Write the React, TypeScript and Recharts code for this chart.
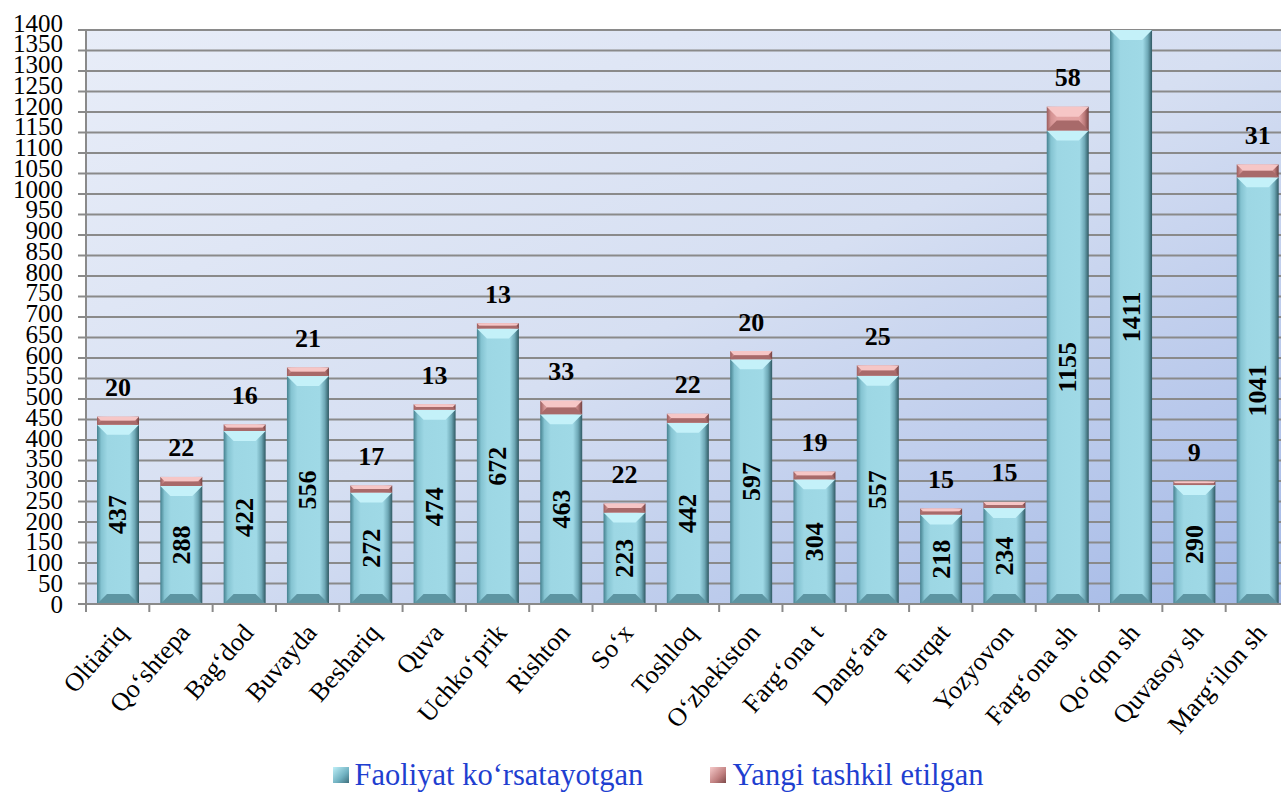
import React from 'react';
import { BarChart, Bar, XAxis, YAxis, CartesianGrid, Legend, LabelList } from 'recharts';

const districts = [
  'Oltiariq', 'Qo‘shtepa', 'Bag‘dod', 'Buvayda', 'Beshariq', 'Quva', 'Uchko‘prik', 'Rishton', 'So‘x',
  'Toshloq', 'O‘zbekiston', 'Farg‘ona t', 'Dang‘ara', 'Furqat', 'Yozyovon', 'Farg‘ona sh', 'Qo‘qon sh',
  'Quvasoy sh', 'Marg‘ilon sh',
];
const activeCounts = [437, 288, 422, 556, 272, 474, 672, 463, 223, 442, 597, 304, 557, 218, 234, 1155, 1411, 290, 1041];
const newCounts = [20, 22, 16, 21, 17, 13, 13, 33, 22, 22, 20, 19, 25, 15, 15, 58, 40, 9, 31];
const yTicks = Array.from({ length: 29 }, (_, i) => i * 50);
const yMax = 1400;

const data = districts.map((name, i) => ({ name, active: activeCounts[i], added: newCounts[i] }));

const FONT = '"Liberation Serif", "Times New Roman", serif';
const CHART_W = 1300;
const PLOT_W = CHART_W - 86 - 11;
const BAND = PLOT_W / districts.length;

const bevelShape = (kind: 'cyan' | 'pink') => (props: any) => {
  const { x, y, width, height } = props;
  if (!height || height <= 0) return <g />;
  const b = Math.min(10, height / 2);
  const top = kind === 'cyan' ? '#c4f1f9' : '#f6c6c6';
  const bottom = kind === 'cyan' ? '#5d95a2' : '#a86a6a';
  return (
    <g>
      <rect x={x} y={y} width={width} height={height} fill={`url(#${kind}Body)`} />
      <polygon
        points={`${x},${y} ${x + width},${y} ${x + width - b},${y + b} ${x + b},${y + b}`}
        fill={top}
      />
      <polygon
        points={`${x},${y + height} ${x + width},${y + height} ${x + width - b},${y + height - b} ${x + b},${y + height - b}`}
        fill={bottom}
      />
    </g>
  );
};

const InnerLabel = (props: any) => {
  const { x, y, width, height, value } = props;
  const cx = x + width / 2;
  const cy = y + height / 2;
  return (
    <text
      x={cx}
      y={cy}
      transform={`rotate(-90 ${cx} ${cy})`}
      textAnchor="middle"
      dominantBaseline="central"
      fontFamily={FONT}
      fontWeight="bold"
      fontSize={26}
      fill="#000"
    >
      {value}
    </text>
  );
};

const TopLabel = (props: any) => {
  const { x, y, width, value, index } = props;
  if (activeCounts[index] + newCounts[index] > yMax) return null;
  return (
    <text
      x={x + width / 2}
      y={y - 29}
      textAnchor="middle"
      dominantBaseline="central"
      fontFamily={FONT}
      fontWeight="bold"
      fontSize={26}
      fill="#000"
    >
      {value}
    </text>
  );
};

const XTick = (props: any) => {
  const { x, y, payload } = props;
  const edge = x - BAND / 2;
  const tx = x + 4;
  const ty = y + 24;
  return (
    <g>
      <line x1={edge} y1={y} x2={edge} y2={y + 8} stroke="#8a8a8a" strokeWidth={2} />
      <text
        x={tx}
        y={ty}
        transform={`rotate(-49 ${tx} ${ty})`}
        textAnchor="end"
        dominantBaseline="central"
        fontFamily={FONT}
        fontSize={26}
        fill="#000"
      >
        {payload.value}
      </text>
    </g>
  );
};

// Excel squeezes the tick labels a little upward toward the top of the axis
const YTick = (props: any) => {
  const { x, y, payload } = props;
  return (
    <text
      x={x}
      y={y - (7 * payload.value) / yMax}
      textAnchor="end"
      dominantBaseline="central"
      fontFamily={FONT}
      fontSize={25}
      fill="#000"
    >
      {payload.value}
    </text>
  );
};

const LegendBox = () => {
  const items = [
    { label: 'Faoliyat ko‘rsatayotgan', grad: 'linear-gradient(135deg, #bff0f8, #6fb0c0 60%, #3f6f7c)' },
    { label: 'Yangi tashkil etilgan', grad: 'linear-gradient(135deg, #f6caca, #c07f7f 60%, #7e4a4a)' },
  ];
  return (
    <div
      style={{
        width: CHART_W,
        height: 68,
        boxSizing: 'border-box',
        paddingTop: 34,
        paddingLeft: 16,
        display: 'flex',
        justifyContent: 'center',
        gap: 67,
        fontFamily: FONT,
        fontSize: 30.5,
        lineHeight: '30px',
        color: '#1f3fd0',
      }}
    >
      {items.map((it) => (
        <div key={it.label} style={{ display: 'flex', alignItems: 'center', gap: 6 }}>
          <span style={{ width: 16, height: 16, background: it.grad, display: 'inline-block' }} />
          <span style={{ fontFamily: FONT }}>{it.label}</span>
        </div>
      ))}
    </div>
  );
};

export default function App() {
  return (
    <div style={{ position: 'absolute', left: 0, top: 0, width: 1281, height: 792, overflow: 'hidden', background: '#fff' }}>
      <BarChart
        width={CHART_W}
        height={792}
        data={data}
        margin={{ top: 30, right: 11, left: 0, bottom: 0 }}
        barSize={42}
      >
        <defs>
          <linearGradient id="plotBg" x1="0" y1="0" x2="1" y2="1">
            <stop offset="0" stopColor="#e8edf8" />
            <stop offset="0.5" stopColor="#d6dff2" />
            <stop offset="1" stopColor="#a3b8e6" />
          </linearGradient>
          <linearGradient id="cyanBody" x1="0" y1="0" x2="1" y2="0">
            <stop offset="0" stopColor="#44808e" />
            <stop offset="0.1" stopColor="#84c3d1" />
            <stop offset="0.25" stopColor="#9dd7e4" />
            <stop offset="0.78" stopColor="#9fd9e6" />
            <stop offset="0.9" stopColor="#6ea8b6" />
            <stop offset="1" stopColor="#2f5963" />
          </linearGradient>
          <linearGradient id="pinkBody" x1="0" y1="0" x2="1" y2="0">
            <stop offset="0" stopColor="#9a5c5c" />
            <stop offset="0.1" stopColor="#d39292" />
            <stop offset="0.25" stopColor="#e3a3a3" />
            <stop offset="0.78" stopColor="#e2a2a2" />
            <stop offset="0.9" stopColor="#bb7979" />
            <stop offset="1" stopColor="#744242" />
          </linearGradient>
        </defs>
        <CartesianGrid vertical={false} stroke="#8a8a8a" strokeWidth={2} fill="url(#plotBg)" fillOpacity={1} />
        <XAxis
          dataKey="name"
          interval={0}
          height={120}
          tickSize={0}
          tickMargin={0}
          tick={<XTick />}
          axisLine={{ stroke: '#8a8a8a', strokeWidth: 2 }}
        />
        <YAxis
          width={86}
          domain={[0, yMax]}
          ticks={yTicks}
          interval={0}
          allowDataOverflow
          tickSize={8}
          tickMargin={15}
          tickLine={{ stroke: '#8a8a8a', strokeWidth: 2 }}
          axisLine={{ stroke: '#8a8a8a', strokeWidth: 2 }}
          tick={<YTick />}
        />
        <Legend verticalAlign="bottom" content={<LegendBox />} />
        <Bar dataKey="active" stackId="a" name="Faoliyat ko‘rsatayotgan" shape={bevelShape('cyan')} isAnimationActive={false}>
          <LabelList dataKey="active" content={<InnerLabel />} />
        </Bar>
        <Bar dataKey="added" stackId="a" name="Yangi tashkil etilgan" shape={bevelShape('pink')} isAnimationActive={false}>
          <LabelList dataKey="added" content={<TopLabel />} />
        </Bar>
      </BarChart>
    </div>
  );
}
